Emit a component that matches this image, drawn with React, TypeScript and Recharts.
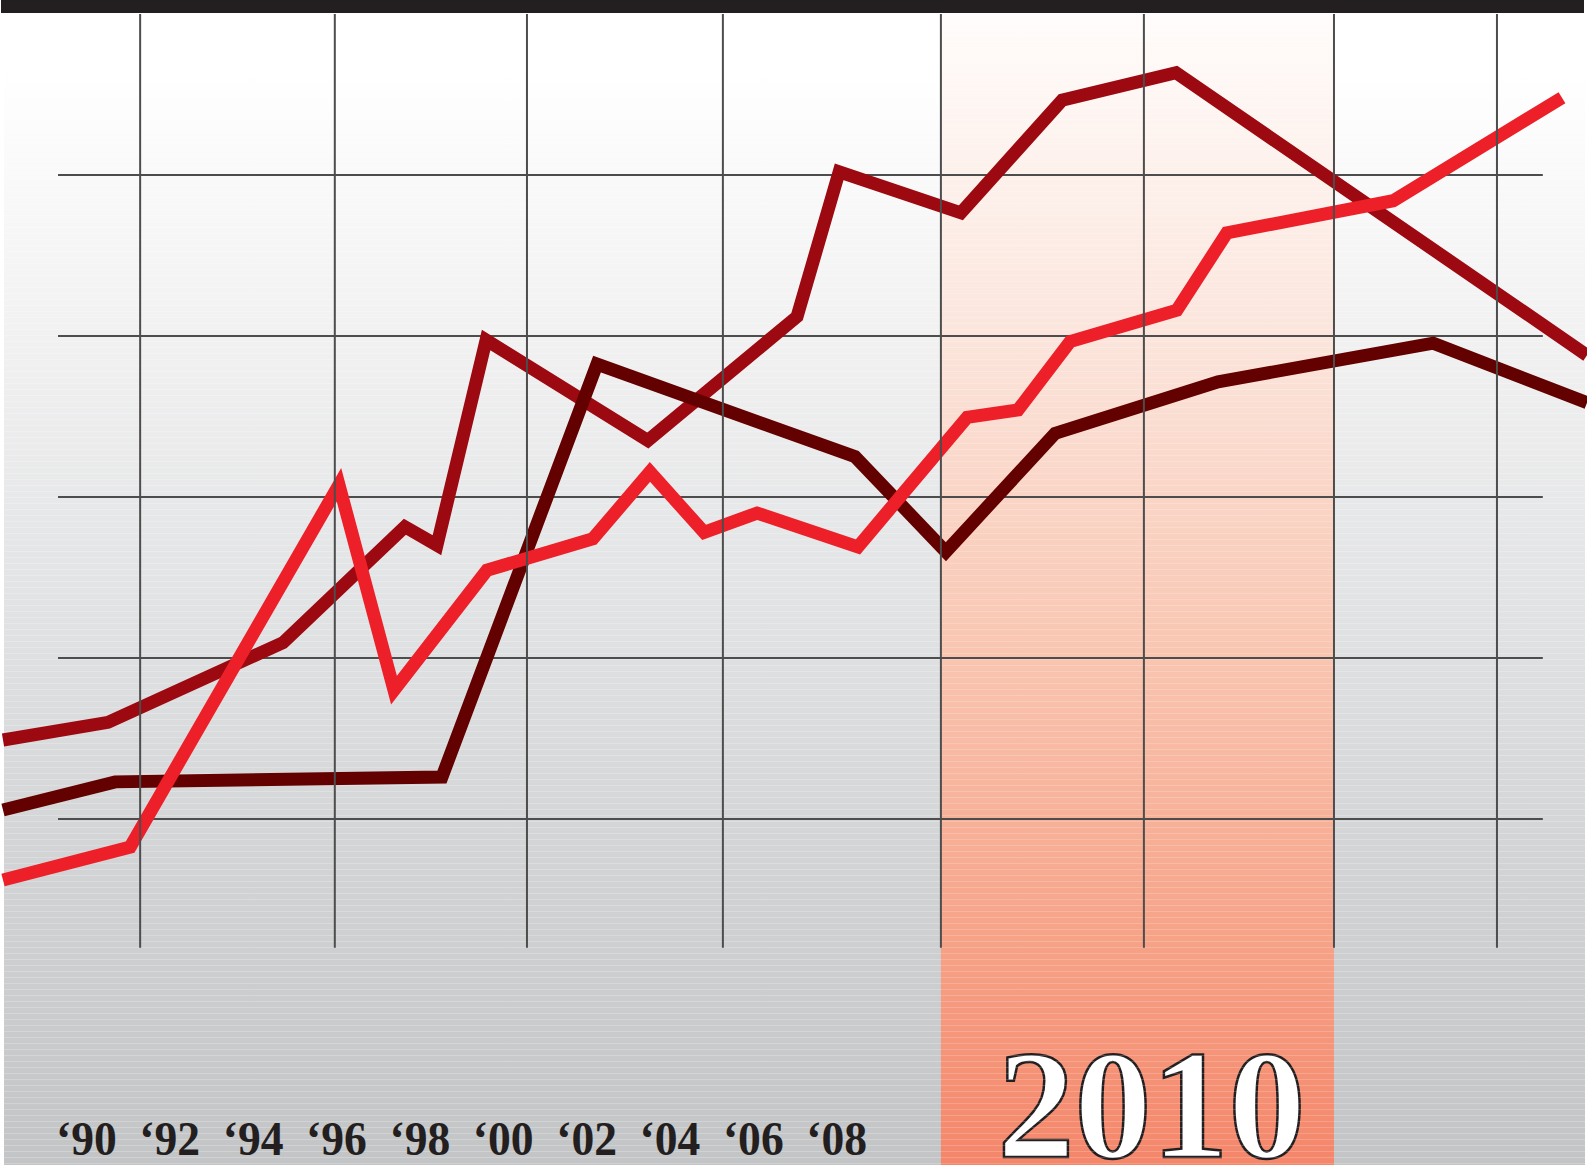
import React from "react";
import { LineChart, Line, XAxis, YAxis, ReferenceLine, ReferenceArea } from "recharts";

// year labels along the bottom
const yearTicks = [1990, 1992, 1994, 1996, 1998, 2000, 2002, 2004, 2006, 2008];

// bright red series
const redSeries = [
  { year: 1988.0, value: 12.4 },
  { year: 1991.05, value: 16.5 },
  { year: 1996.06, value: 61.5 },
  { year: 1997.38, value: 36.0 },
  { year: 1999.61, value: 50.9 },
  { year: 2002.15, value: 54.8 },
  { year: 2003.52, value: 63.1 },
  { year: 2004.82, value: 55.6 },
  { year: 2006.09, value: 58.0 },
  { year: 2008.51, value: 53.8 },
  { year: 2011.13, value: 69.9 },
  { year: 2012.35, value: 70.8 },
  { year: 2013.6, value: 79.3 },
  { year: 2016.16, value: 83.2 },
  { year: 2017.36, value: 92.8 },
  { year: 2021.35, value: 96.8 },
  { year: 2025.4, value: 109.6 },
];

// dark red series
const crimsonSeries = [
  { year: 1988.0, value: 29.8 },
  { year: 1990.52, value: 32.0 },
  { year: 1994.72, value: 41.9 },
  { year: 1997.64, value: 56.3 },
  { year: 1998.41, value: 54.0 },
  { year: 1999.59, value: 79.5 },
  { year: 2003.47, value: 67.0 },
  { year: 2007.05, value: 82.4 },
  { year: 2008.06, value: 100.4 },
  { year: 2010.98, value: 95.3 },
  { year: 2013.41, value: 109.3 },
  { year: 2016.14, value: 112.7 },
  { year: 2026.0, value: 77.6 },
];

// maroon series
const maroonSeries = [
  { year: 1988.0, value: 21.1 },
  { year: 1990.69, value: 24.6 },
  { year: 1998.53, value: 25.2 },
  { year: 2002.25, value: 76.5 },
  { year: 2008.44, value: 65.0 },
  { year: 2010.62, value: 53.2 },
  { year: 2013.24, value: 67.9 },
  { year: 2017.15, value: 74.3 },
  { year: 2022.31, value: 79.1 },
  { year: 2026.0, value: 71.7 },
];

const gridYears = [1991.29, 1995.96, 2000.57, 2005.27, 2010.5, 2015.37, 2019.93, 2023.84];
const gridValues = [20, 40, 60, 80, 100];
const gridSpanYears = [1989.32, 2024.94];
const gridSpanValues = [4, 120];

const highlightYears = [2010.5, 2019.93];
const highlightLabel = "2010";

const YearTick = ({ x, y, payload }: any) => (
  <text
    x={0}
    y={0}
    transform={`translate(${x} ${y - 8}) scale(0.95 1)`}
    textAnchor="middle"
    fontFamily="'Liberation Serif', 'Times New Roman', serif"
    fontWeight="bold"
    fontSize={48}
    fill="#231f20"
  >
    {"\u2018" + String(payload.value).slice(2)}
  </text>
);

const HighlightLabel = ({ viewBox }: any) => {
  if (!viewBox) return null;
  return (
    <text
      x={viewBox.x + viewBox.width / 2 + 14}
      y={viewBox.y + viewBox.height - 8}
      textAnchor="middle"
      fontFamily="'Liberation Serif', 'Times New Roman', serif"
      fontWeight="bold"
      fontSize={154}
      fill="#ffffff"
      stroke="#231f20"
      strokeWidth={2.5}
    >
      {highlightLabel}
    </text>
  );
};

export default function App() {
  return (
    <div
      style={{
        position: "absolute",
        left: 0,
        top: 0,
        width: 1587,
        height: 1165,
        background: "#ffffff",
      }}
    >
      <div
        style={{
          position: "absolute",
          left: 4,
          top: 0,
          width: 1581,
          height: 1165,
          background:
            "repeating-linear-gradient(to bottom, rgba(255,255,255,0) 0px, rgba(255,255,255,0) 5px, rgba(255,255,255,0.22) 5px, rgba(255,255,255,0.22) 6px), linear-gradient(to bottom, #ffffff 0px, #ffffff 70px, #f3f3f4 300px, #e2e3e4 600px, #d3d4d6 850px, #c3c4c6 1165px)",
        }}
      />
      <div
        style={{
          position: "absolute",
          left: 1,
          top: 0,
          width: 1583,
          height: 13,
          background: "#231f20",
          zIndex: 2,
        }}
      />
      <div style={{ position: "absolute", left: 0, top: 0 }}>
        <LineChart
          width={1587}
          height={1165}
          margin={{ top: 14, right: 0, bottom: 0, left: 3 }}
        >
          <defs>
            <linearGradient id="hlFill" x1="0" y1="0" x2="0" y2="1">
              <stop offset="0%" stopColor="#fffcfb" />
              <stop offset="28%" stopColor="#fbe5dc" />
              <stop offset="55%" stopColor="#f9c6b2" />
              <stop offset="80%" stopColor="#f6a388" />
              <stop offset="100%" stopColor="#f4866a" />
            </linearGradient>
            <pattern id="streaks" width="40" height="6" patternUnits="userSpaceOnUse">
              <rect x="0" y="5" width="40" height="1" fill="rgba(255,255,255,0.18)" />
            </pattern>
          </defs>
          <XAxis
            dataKey="year"
            type="number"
            domain={[1988, 2026]}
            ticks={yearTicks}
            mirror
            axisLine={false}
            tickLine={false}
            tickSize={0}
            tick={<YearTick />}
            interval={0}
          />
          <YAxis type="number" domain={[-23, 120]} hide />
          <ReferenceArea
            x1={highlightYears[0]}
            x2={highlightYears[1]}
            y1={-23}
            y2={120}
            fill="url(#hlFill)"
            fillOpacity={1}
            stroke="none"
            label={<HighlightLabel />}
          />
          <ReferenceArea
            x1={highlightYears[0]}
            x2={highlightYears[1]}
            y1={-23}
            y2={120}
            fill="url(#streaks)"
            fillOpacity={1}
            stroke="none"
          />
          {gridValues.map((v) => (
            <ReferenceLine
              key={"h" + v}
              segment={[
                { x: gridSpanYears[0], y: v },
                { x: gridSpanYears[1], y: v },
              ]}
              stroke="#4d4d4d"
              strokeWidth={2}
            />
          ))}
          <Line
            data={crimsonSeries}
            dataKey="value"
            type="linear"
            stroke="#9d0911"
            strokeWidth={13}
            strokeLinejoin="miter"
            dot={false}
            activeDot={false}
            isAnimationActive={false}
          />
          <Line
            data={maroonSeries}
            dataKey="value"
            type="linear"
            stroke="#630000"
            strokeWidth={13}
            strokeLinejoin="miter"
            dot={false}
            activeDot={false}
            isAnimationActive={false}
          />
          <Line
            data={redSeries}
            dataKey="value"
            type="linear"
            stroke="#ed1f28"
            strokeWidth={13}
            strokeLinejoin="miter"
            dot={false}
            activeDot={false}
            isAnimationActive={false}
          />
          {gridYears.map((yr) => (
            <ReferenceLine
              key={"v" + yr}
              segment={[
                { x: yr, y: gridSpanValues[0] },
                { x: yr, y: gridSpanValues[1] },
              ]}
              stroke="#4d4d4d"
              strokeWidth={2}
            />
          ))}
        </LineChart>
      </div>
    </div>
  );
}
